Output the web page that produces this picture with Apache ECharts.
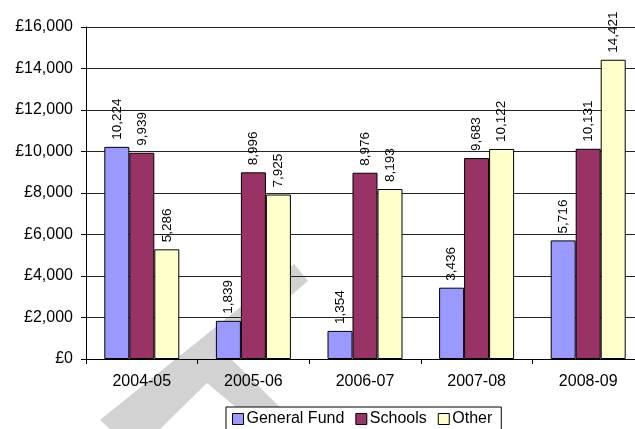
<!DOCTYPE html>
<html>
<head>
<meta charset="utf-8">
<script src="https://cdn.jsdelivr.net/npm/echarts@6/dist/echarts.min.js"></script>
<style>
html,body{margin:0;padding:0;background:#fff;}
#main{width:635px;height:429px;}
</style>
</head>
<body>
<div id="main"></div>
<script>
// data
var years = ['2004-05', '2005-06', '2006-07', '2007-08', '2008-09'];
var generalFund = [10224, 1839, 1354, 3436, 5716];
var schools = [9939, 8996, 8976, 9683, 10131];
var other = [5286, 7925, 8193, 10122, 14421];
var seriesNames = ['General Fund', 'Schools', 'Other'];
var seriesColors = ['#9999ff', '#993366', '#ffffcc'];

var FONT = '"Liberation Sans", Arial, sans-serif';

function fmt(v){
    return String(v).replace(/\B(?=(\d{3})+(?!\d))/g, ',');
}

function makeSeries(name, data, color){
    return {
        name: name,
        type: 'bar',
        data: data,
        barWidth: 25,
        barGap: '0%',
        itemStyle: { color: color, borderColor: '#000', borderWidth: 1 },
        label: {
            show: true,
            position: 'top',
            rotate: 90,
            align: 'left',
            verticalAlign: 'middle',
            distance: 7,
            color: '#000',
            fontFamily: FONT,
            fontSize: 13.5,
            formatter: function(p){ return fmt(p.value); }
        },
        z: 3
    };
}

var chart = echarts.init(document.getElementById('main'));
chart.setOption({
    animation: false,
    backgroundColor: '#fff',
    textStyle: { fontFamily: FONT },
    // plot runs past the right edge of the picture (cropped in the original)
    grid: { left: 86, top: 27, width: 558, bottom: 70, containLabel: false, outerBoundsMode: 'none' },
    // watermark arrow behind the plot
    graphic: [{
        type: 'polygon',
        z: -10,
        shape: { points: [[100,420],[110,429],[160,429],[207,383],[262,429],[302,429],[224,352],[308,281],[294,264]] },
        style: { fill: '#d2d2d2' }
    }],
    legend: {
        data: seriesNames,
        left: 226,
        top: 407,
        orient: 'horizontal',
        itemWidth: 11,
        itemHeight: 11,
        itemGap: 11,
        padding: [4, 9, 5, 6],
        backgroundColor: '#fff',
        borderColor: '#000',
        borderWidth: 1,
        borderRadius: 0,
        icon: 'rect',
        itemStyle: { borderColor: '#000', borderWidth: 1 },
        textStyle: { fontFamily: FONT, fontSize: 16, color: '#000', padding: [0, 0, 0, -2] }
    },
    xAxis: {
        type: 'category',
        data: years,
        axisLine: { lineStyle: { color: '#000', width: 1 } },
        axisTick: { show: true, length: 5, lineStyle: { color: '#000' } },
        axisLabel: { color: '#000', fontFamily: FONT, fontSize: 16, margin: 15 }
    },
    yAxis: {
        type: 'value',
        min: 0,
        max: 16000,
        interval: 2000,
        axisLine: { show: true, lineStyle: { color: '#000', width: 1 } },
        axisTick: { show: true, length: 5, lineStyle: { color: '#000' } },
        splitLine: { show: true, lineStyle: { color: '#222', width: 1 } },
        axisLabel: {
            color: '#000', fontFamily: FONT, fontSize: 16, margin: 13,
            formatter: function(v){ return '£' + fmt(v); }
        }
    },
    series: [
        makeSeries(seriesNames[0], generalFund, seriesColors[0]),
        makeSeries(seriesNames[1], schools, seriesColors[1]),
        makeSeries(seriesNames[2], other, seriesColors[2])
    ]
});
</script>
</body>
</html>
